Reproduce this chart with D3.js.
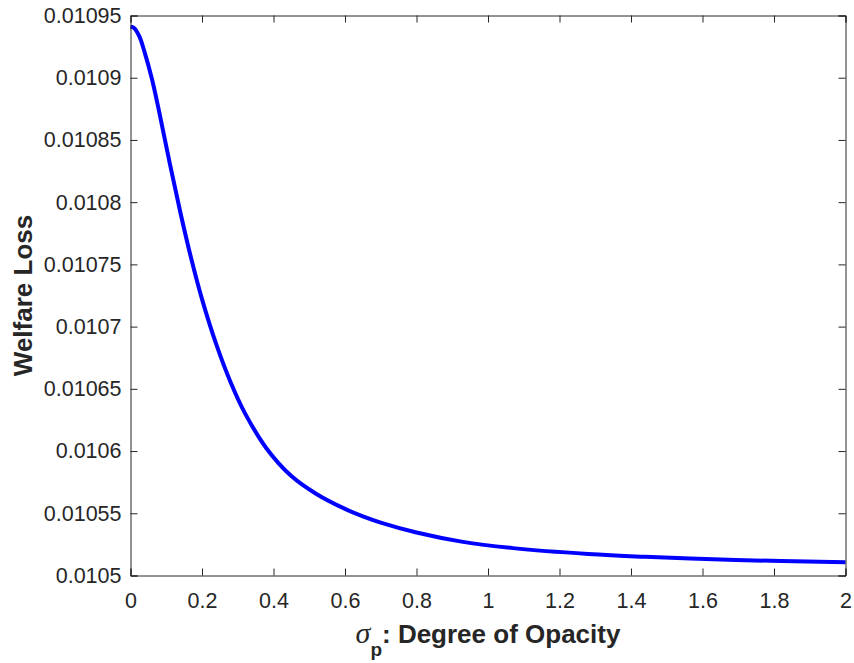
<!DOCTYPE html>
<html>
<head>
<meta charset="utf-8">
<script src="https://cdn.jsdelivr.net/npm/d3@7"></script>
<style>
  body { margin: 0; background: #fff; }
  text { font-family: "Liberation Sans", Arial, sans-serif; fill: #262626; }
</style>
</head>
<body>
<script>
// dados
var sigmaP = [0, 0.01, 0.025, 0.04, 0.06, 0.08, 0.11, 0.14, 0.17, 0.2, 0.24, 0.28, 0.32,
  0.38, 0.45, 0.52, 0.6, 0.65, 0.7, 0.8, 0.93, 1.07, 1.28, 1.44, 1.63, 1.82, 2.0];
var welfareLoss = [0.010941, 0.010940, 0.010933, 0.010920, 0.010899, 0.010873, 0.010831,
  0.0107911, 0.0107545, 0.0107221, 0.0106857, 0.0106553, 0.0106305, 0.0106023, 0.0105799,
  0.0105655, 0.0105535, 0.0105475, 0.0105425, 0.0105345, 0.010527, 0.010522, 0.0105173,
  0.010515, 0.010513, 0.0105116, 0.0105107];
var xTicks = [0, 0.2, 0.4, 0.6, 0.8, 1, 1.2, 1.4, 1.6, 1.8, 2];
var yTicks = [0.0105, 0.01055, 0.0106, 0.01065, 0.0107, 0.01075, 0.0108, 0.01085, 0.0109, 0.01095];
var yTickLabels = ["0.0105", "0.01055", "0.0106", "0.01065", "0.0107", "0.01075", "0.0108", "0.01085", "0.0109", "0.01095"];

var width = 854;
var height = 663;
var plot = {left: 130.5, top: 15.5, right: 845.5, bottom: 575.5};
var corAxis = "#262626";

var svgTag = d3.select("body").append("svg")
	.attr("width", width)
	.attr("height", height);

var xScale = d3.scaleLinear().domain([0, 2]).range([plot.left, plot.right]);
var yScale = d3.scaleLinear().domain([0.0105, 0.01095]).range([plot.bottom, plot.top]);

// curva
var linha = d3.line()
	.x((d, i) => xScale(sigmaP[i]))
	.y((d, i) => yScale(welfareLoss[i]))
	.curve(d3.curveCatmullRom.alpha(0.5));

svgTag.append("path")
	.datum(welfareLoss)
	.attr("d", linha)
	.attr("fill", "none")
	.attr("stroke", "#0000ff")
	.attr("stroke-width", 4)
	.attr("stroke-linejoin", "round");

// eixos (ticks para dentro, em todos os lados)
var tk = 7;
var eixoX = svgTag.append("g").attr("transform", "translate(0," + plot.bottom + ")")
	.call(d3.axisBottom(xScale).tickValues(xTicks).tickSize(-tk).tickPadding(17).tickFormat(d3.format("")));
var eixoXtopo = svgTag.append("g").attr("transform", "translate(0," + plot.top + ")")
	.call(d3.axisTop(xScale).tickValues(xTicks).tickSize(-tk).tickFormat(""));
var eixoY = svgTag.append("g").attr("transform", "translate(" + plot.left + ",0)")
	.call(d3.axisLeft(yScale).tickValues(yTicks).tickSize(-tk).tickPadding(9).tickFormat((d, i) => yTickLabels[i]));
var eixoYdir = svgTag.append("g").attr("transform", "translate(" + plot.right + ",0)")
	.call(d3.axisRight(yScale).tickValues(yTicks).tickSize(-tk).tickFormat(""));

[eixoX, eixoXtopo, eixoY, eixoYdir].forEach(function(g) {
	g.select(".domain").attr("stroke", corAxis).attr("stroke-width", 1);
	g.selectAll(".tick line").attr("stroke", corAxis).attr("stroke-width", 1);
	g.selectAll(".tick text").attr("font-size", "21.5px").attr("fill", corAxis)
		.attr("font-family", "'Liberation Sans', Arial, sans-serif");
});

// rótulos
svgTag.append("text")
	.attr("transform", "translate(32," + ((plot.top + plot.bottom) / 2) + ") rotate(-90)")
	.attr("text-anchor", "middle")
	.attr("font-size", "26px")
	.attr("font-weight", "bold")
	.text("Welfare Loss");

var rotuloX = svgTag.append("text")
	.attr("x", (plot.left + plot.right) / 2)
	.attr("y", 643)
	.attr("text-anchor", "middle")
	.attr("font-size", "26px")
	.attr("font-weight", "bold");
rotuloX.append("tspan")
	.attr("font-family", "'Liberation Serif', 'Times New Roman', serif")
	.attr("font-style", "italic")
	.attr("font-weight", "normal")
	.attr("font-size", "30px")
	.text("σ");
rotuloX.append("tspan")
	.attr("font-size", "19px")
	.attr("dy", 13)
	.text("p");
rotuloX.append("tspan")
	.attr("dy", -13)
	.text(": Degree of Opacity");
</script>
</body>
</html>
